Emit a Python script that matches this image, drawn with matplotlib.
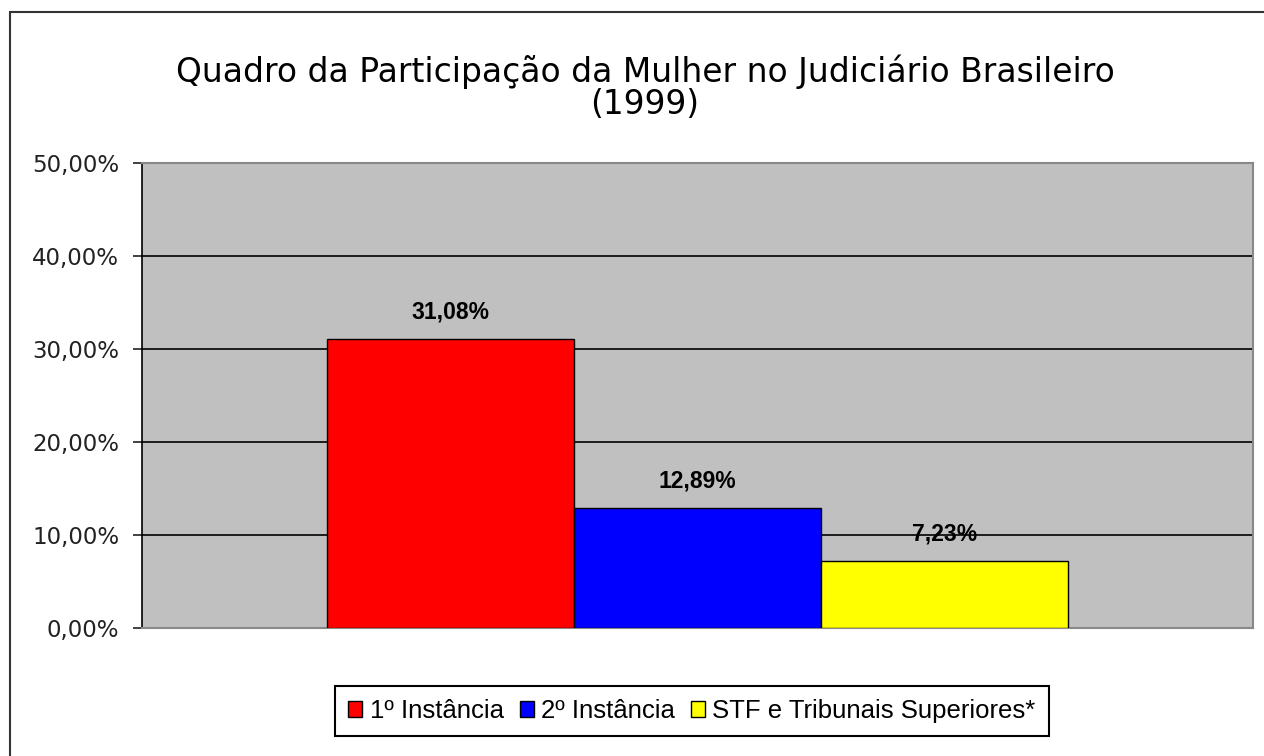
import matplotlib.pyplot as plt
from matplotlib.patches import Rectangle
from matplotlib.ticker import FuncFormatter

plt.rcParams['font.family'] = ['DejaVu Sans']

series = ['1º Instância', '2º Instância', 'STF e Tribunais Superiores*']
valores = [31.08, 12.89, 7.23]
cores = ['#ff0000', '#0000ff', '#ffff00']
titulo1 = 'Quadro da Participação da Mulher no Judiciário Brasileiro'
titulo2 = '(1999)'

fig = plt.figure(figsize=(12.64, 7.56), dpi=100)
# moldura externa (so topo e esquerda aparecem)
fig.patches.append(Rectangle((10/1264, -0.1), 1.2, 1.1 - 12/756, transform=fig.transFigure,
                             fill=False, edgecolor='#333333', linewidth=1.5))

ax = fig.add_axes([142/1264, (756-628)/756, (1253-142)/1264, (628-163)/756])
ax.set_facecolor('#c0c0c0')

xs = [-1, 0, 1]
for i in range(len(valores)):
    ax.bar(xs[i], valores[i], width=1.0, color=cores[i], edgecolor='black',
           linewidth=1, label=series[i], zorder=3)
    ax.text(xs[i], valores[i] + 2.9, ('%.2f' % valores[i]).replace('.', ',') + '%',
            ha='center', va='center', fontsize=16.5, fontweight='bold',
            family='Liberation Sans', zorder=4)

ax.set_xlim(-2.25, 2.25)
ax.set_ylim(0, 50)
ax.set_yticks([0, 10, 20, 30, 40, 50])
ax.yaxis.set_major_formatter(FuncFormatter(lambda v, p: ('%.2f' % v).replace('.', ',') + '%'))
ax.set_xticks([])
ax.grid(axis='y', color='black', linewidth=1.2, zorder=1)
ax.set_axisbelow(True)
ax.tick_params(axis='y', length=6.5, width=1.2, labelsize=16.5, pad=10, colors='#222222')
for s in ['top', 'right', 'bottom']:
    ax.spines[s].set_color('#888888')
    ax.spines[s].set_linewidth(1.5)
ax.spines['left'].set_color('black')
ax.spines['left'].set_linewidth(1.2)

fig.text(645/1264, 1 - 72/756, titulo1, ha='center', va='center', fontsize=23.7)
fig.text(645/1264, 1 - 105/756, titulo2, ha='center', va='center', fontsize=23.7)

leg = fig.legend(loc='center', bbox_to_anchor=(692/1264, 1 - 711/756), ncol=3,
                 frameon=True, fancybox=False, edgecolor='black', framealpha=1,
                 prop={'family': 'Liberation Sans', 'size': 18.5},
                 handlelength=0.55, handleheight=0.55, handletextpad=0.3,
                 columnspacing=0.6, borderpad=0.5)
leg.get_frame().set_linewidth(1.5)

fig.savefig('out.png', dpi=100)
